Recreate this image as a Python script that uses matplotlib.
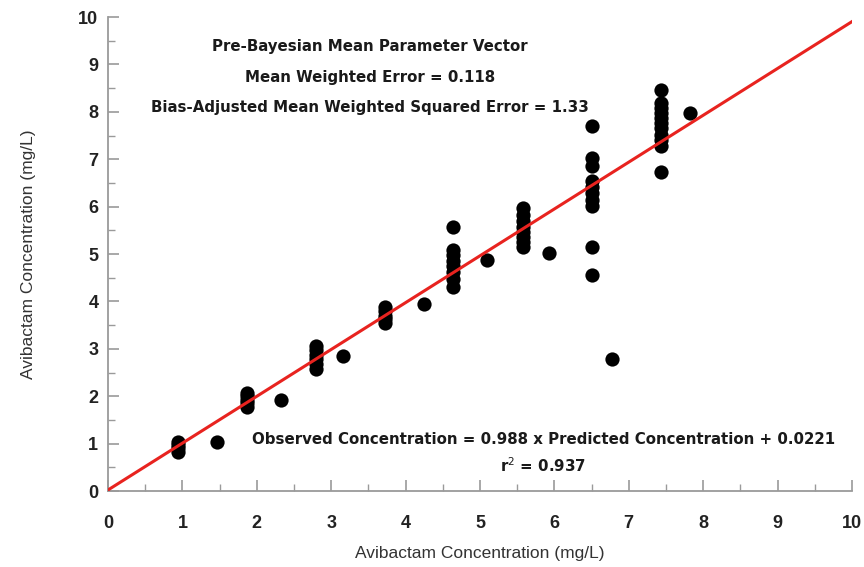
import matplotlib

matplotlib.use("Agg")
import matplotlib.pyplot as plt
import numpy as np

plt.rcParams["font.family"] = ["Liberation Sans", "DejaVu Sans"]

# predicted (x) vs observed (y) avibactam concentration, mg/L
predicted = [
    0.94, 0.94, 0.94, 0.94,
    1.46,
    1.87, 1.87, 1.87, 1.87, 1.87,
    2.32,
    2.80, 2.80, 2.80, 2.80, 2.80, 2.80,
    3.16,
    3.73, 3.73, 3.73, 3.73, 3.73,
    4.25,
    4.64, 4.64, 4.64, 4.64, 4.64, 4.64, 4.64, 4.64,
    5.09,
    5.58, 5.58, 5.58, 5.58, 5.58, 5.58, 5.58, 5.58,
    5.93,
    6.50, 6.50, 6.50, 6.50, 6.50, 6.50, 6.50, 6.50, 6.50, 6.50,
    6.77,
    7.44, 7.44, 7.44, 7.44, 7.44, 7.44, 7.44, 7.44, 7.44, 7.44, 7.44,
    7.82,
]
observed = [
    0.82, 0.90, 0.98, 1.04,
    1.03,
    1.77, 1.86, 1.93, 2.00, 2.06,
    1.93,
    2.58, 2.68, 2.78, 2.88, 2.98, 3.05,
    2.84,
    3.54, 3.62, 3.70, 3.80, 3.88,
    3.95,
    4.31, 4.48, 4.62, 4.75, 4.85, 4.97, 5.08, 5.57,
    4.88,
    5.15, 5.25, 5.36, 5.47, 5.58, 5.70, 5.82, 5.97,
    5.02,
    4.55, 5.14, 6.02, 6.15, 6.28, 6.42, 6.53, 6.85, 7.02, 7.70,
    2.79,
    6.74, 7.28, 7.40, 7.52, 7.65, 7.77, 7.88, 7.98, 8.08, 8.18, 8.46,
    7.98,
]

slope = 0.988
intercept = 0.0221
fit_x = [0, 10]

fig = plt.figure(figsize=(8.64, 5.67), dpi=100)
ax = fig.add_axes([0.125, 0.134, 0.861, 0.836])

ax.scatter(predicted, observed, s=105, color="black", zorder=2, linewidths=0)
ax.plot(fit_x, [slope * v + intercept for v in fit_x], color="#e8231f", linewidth=2.2, zorder=3)

ax.set_xlim(0, 10)
ax.set_ylim(0, 10)
ax.set_xticks(np.arange(0, 11, 1))
ax.set_yticks(np.arange(0, 11, 1))
ax.set_xticks(np.arange(0.5, 10, 1), minor=True)
ax.set_yticks(np.arange(0.5, 10, 1), minor=True)

for side in ["top", "right"]:
    ax.spines[side].set_visible(False)
for side in ["left", "bottom"]:
    ax.spines[side].set_color("#9a9a9a")
    ax.spines[side].set_linewidth(1.3)

ax.tick_params(which="major", direction="in", length=8, width=1.2, color="#9a9a9a",
               labelsize=13, labelcolor="#222222")
ax.tick_params(which="minor", direction="in", length=5, width=1.0, color="#9a9a9a")
ax.tick_params(axis="x", which="major", pad=17)
ax.tick_params(axis="y", which="major", pad=7)
for lbl in ax.get_xticklabels() + ax.get_yticklabels():
    lbl.set_fontweight("bold")

ax.set_xlabel("Avibactam Concentration (mg/L)", fontsize=12.5, color="#333333", labelpad=10)
ax.set_ylabel("Avibactam Concentration (mg/L)", fontsize=12.5, color="#333333", labelpad=30)

txt = dict(ha="center", va="center", fontsize=10.8, fontweight="bold", color="#1a1a1a",
           family="DejaVu Sans")
ax.text(3.52, 9.37, "Pre-Bayesian Mean Parameter Vector", **txt)
ax.text(3.52, 8.72, "Mean Weighted Error = 0.118", **txt)
ax.text(3.52, 8.10, "Bias-Adjusted Mean Weighted Squared Error = 1.33", **txt)
ax.text(5.85, 1.08, "Observed Concentration = 0.988 x Predicted Concentration + 0.0221", **txt)
ax.text(5.85, 0.53, "r$^2$ = 0.937", **txt)

fig.savefig("out.png", dpi=100)
